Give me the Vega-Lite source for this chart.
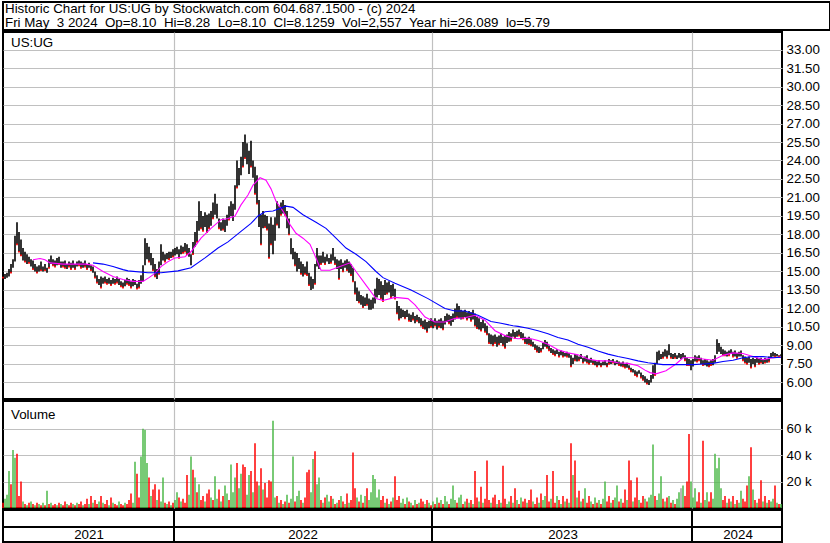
{
"$schema":"https://vega.github.io/schema/vega-lite/v6.json",
"background":"white",
"padding":{"left":1,"top":1,"right":0,"bottom":0},
"spacing":2,
"bounds":"flush",
"resolve":{"scale":{"color":"independent"}},
"config":{"view":{"stroke":"black","strokeWidth":2},"font":"Liberation Sans","axis":{"labelFont":"Liberation Sans","labelFontSize":13.33,"labelColor":"black","gridColor":"#c0c0c0","gridWidth":1.2,"ticks":false,"domain":false,"labelOverlap":false,"labelBound":false},"text":{"font":"Liberation Sans"}},
"datasets":{
"hd":[{"r":1,"t":"Historic Chart for US:UG by Stockwatch.com 604.687.1500 - (c) 2024"},{"r":2,"t":"Fri May\u00a0 3 2024\u00a0 Op=8.10\u00a0 Hi=8.28\u00a0 Lo=8.10\u00a0 Cl=8.1259\u00a0 Vol=2,557\u00a0 Year hi=26.089\u00a0 lo=5.79"}],
"yr":[{"y":"2021","a":0,"b":171,"m":86},{"y":"2022","a":171,"b":429,"m":300},{"y":"2023","a":429,"b":689,"m":560},{"y":"2024","a":689,"b":779,"m":735}],
"ma":[
{"k":"a","x":30,"p":15.95},{"k":"a","x":37,"p":16.05},{"k":"a","x":42,"p":15.95},{"k":"a","x":47,"p":15.7},{"k":"a","x":60,"p":15.6},{"k":"a","x":83,"p":15.6},{"k":"a","x":90,"p":15.5},{"k":"a","x":100,"p":15.0},{"k":"a","x":110,"p":14.6},{"k":"a","x":120,"p":14.35},{"k":"a","x":130,"p":14.2},{"k":"a","x":140,"p":14.2},{"k":"a","x":146,"p":14.5},{"k":"a","x":152,"p":14.85},{"k":"a","x":158,"p":15.4},{"k":"a","x":165,"p":15.8},{"k":"a","x":172,"p":16.1},{"k":"a","x":182,"p":16.2},{"k":"a","x":188,"p":16.6},{"k":"a","x":198,"p":17.7},{"k":"a","x":208,"p":18.5},{"k":"a","x":218,"p":19.2},{"k":"a","x":225,"p":19.3},{"k":"a","x":232,"p":19.5},{"k":"a","x":238,"p":20.4},{"k":"a","x":245,"p":21.2},{"k":"a","x":250,"p":22.0},{"k":"a","x":257,"p":22.6},{"k":"a","x":263,"p":22.4},{"k":"a","x":268,"p":21.7},{"k":"a","x":273,"p":20.7},{"k":"a","x":280,"p":19.9},{"k":"a","x":287,"p":18.8},{"k":"a","x":293,"p":18.1},{"k":"a","x":300,"p":17.7},{"k":"a","x":307,"p":17.2},{"k":"a","x":313,"p":16.1},{"k":"a","x":318,"p":15.1},{"k":"a","x":327,"p":15.1},{"k":"a","x":337,"p":15.4},{"k":"a","x":347,"p":15.7},{"k":"a","x":353,"p":15.0},{"k":"a","x":363,"p":13.9},{"k":"a","x":373,"p":12.8},{"k":"a","x":380,"p":12.65},{"k":"a","x":392,"p":12.9},{"k":"a","x":405,"p":12.8},{"k":"a","x":412,"p":12.3},{"k":"a","x":422,"p":11.3},{"k":"a","x":432,"p":10.9},{"k":"a","x":442,"p":10.9},{"k":"a","x":452,"p":11.2},{"k":"a","x":462,"p":11.25},{"k":"a","x":472,"p":11.45},{"k":"a","x":482,"p":11.05},{"k":"a","x":492,"p":10.2},{"k":"a","x":502,"p":9.8},{"k":"a","x":510,"p":9.6},{"k":"a","x":515,"p":9.55},{"k":"a","x":525,"p":9.6},{"k":"a","x":535,"p":9.4},{"k":"a","x":545,"p":9.1},{"k":"a","x":555,"p":8.65},{"k":"a","x":565,"p":8.4},{"k":"a","x":575,"p":8.25},{"k":"a","x":585,"p":7.9},{"k":"a","x":595,"p":7.75},{"k":"a","x":605,"p":7.75},{"k":"a","x":615,"p":7.6},{"k":"a","x":625,"p":7.55},{"k":"a","x":635,"p":7.35},{"k":"a","x":642,"p":7.0},{"k":"a","x":647,"p":6.8},{"k":"a","x":653,"p":6.7},{"k":"a","x":663,"p":6.95},{"k":"a","x":673,"p":7.5},{"k":"a","x":680,"p":8.0},{"k":"a","x":690,"p":8.0},{"k":"a","x":700,"p":7.9},{"k":"a","x":710,"p":7.8},{"k":"a","x":720,"p":8.2},{"k":"a","x":730,"p":8.4},{"k":"a","x":740,"p":8.35},{"k":"a","x":750,"p":8.1},{"k":"a","x":760,"p":7.85},{"k":"a","x":770,"p":8.0},{"k":"a","x":778,"p":8.05},
{"k":"b","x":90,"p":15.7},{"k":"b","x":100,"p":15.6},{"k":"b","x":110,"p":15.4},{"k":"b","x":120,"p":15.15},{"k":"b","x":125,"p":15.05},{"k":"b","x":145,"p":14.9},{"k":"b","x":158,"p":14.9},{"k":"b","x":175,"p":15.05},{"k":"b","x":188,"p":15.3},{"k":"b","x":202,"p":16.1},{"k":"b","x":215,"p":16.9},{"k":"b","x":225,"p":17.4},{"k":"b","x":238,"p":18.25},{"k":"b","x":248,"p":18.9},{"k":"b","x":255,"p":19.5},{"k":"b","x":262,"p":19.85},{"k":"b","x":270,"p":19.9},{"k":"b","x":283,"p":20.3},{"k":"b","x":290,"p":20.2},{"k":"b","x":300,"p":19.6},{"k":"b","x":313,"p":19.0},{"k":"b","x":323,"p":18.5},{"k":"b","x":333,"p":17.7},{"k":"b","x":343,"p":16.9},{"k":"b","x":353,"p":16.4},{"k":"b","x":363,"p":15.8},{"k":"b","x":373,"p":15.0},{"k":"b","x":380,"p":14.5},{"k":"b","x":392,"p":14.05},{"k":"b","x":408,"p":13.5},{"k":"b","x":425,"p":12.8},{"k":"b","x":442,"p":12.0},{"k":"b","x":452,"p":11.8},{"k":"b","x":462,"p":11.8},{"k":"b","x":475,"p":11.45},{"k":"b","x":488,"p":10.95},{"k":"b","x":498,"p":10.8},{"k":"b","x":510,"p":10.6},{"k":"b","x":515,"p":10.55},{"k":"b","x":525,"p":10.4},{"k":"b","x":535,"p":10.2},{"k":"b","x":545,"p":9.95},{"k":"b","x":555,"p":9.65},{"k":"b","x":565,"p":9.45},{"k":"b","x":575,"p":9.1},{"k":"b","x":585,"p":8.85},{"k":"b","x":595,"p":8.55},{"k":"b","x":605,"p":8.3},{"k":"b","x":615,"p":8.1},{"k":"b","x":625,"p":7.95},{"k":"b","x":635,"p":7.75},{"k":"b","x":645,"p":7.6},{"k":"b","x":660,"p":7.45},{"k":"b","x":673,"p":7.45},{"k":"b","x":690,"p":7.45},{"k":"b","x":700,"p":7.5},{"k":"b","x":710,"p":7.55},{"k":"b","x":720,"p":7.7},{"k":"b","x":730,"p":7.8},{"k":"b","x":740,"p":8.0},{"k":"b","x":750,"p":8.1},{"k":"b","x":760,"p":8.1},{"k":"b","x":770,"p":8.0},{"k":"b","x":778,"p":8.05}
],
"d":[
{"x":0,"h":15.0,"l":14.5,"v":4,"u":0},{"x":2,"h":14.8,"l":14.4,"v":7,"u":1},{"x":4,"h":14.9,"l":14.5,"v":10,"u":1},{"x":6,"h":15.2,"l":14.6,"v":28,"u":1},{"x":8,"h":15.6,"l":14.9,"v":18,"u":0},{"x":10,"h":16.0,"l":15.3,"v":44,"u":1},{"x":12,"h":17.9,"l":15.8,"v":38,"u":1},{"x":14,"h":19.0,"l":17.2,"v":41,"u":0},{"x":16,"h":18.2,"l":16.6,"v":9,"u":0},{"x":18,"h":17.6,"l":16.3,"v":20,"u":0},
{"x":20,"h":16.9,"l":15.9,"v":5,"u":1},{"x":22,"h":16.6,"l":15.8,"v":3,"u":0},{"x":24,"h":16.4,"l":15.6,"v":2,"u":1},{"x":26,"h":16.2,"l":15.7,"v":4,"u":0},{"x":28,"h":16.0,"l":15.4,"v":5,"u":1},{"x":30,"h":15.9,"l":15.2,"v":3,"u":0},{"x":32,"h":15.6,"l":15.0,"v":2,"u":1},{"x":34,"h":15.4,"l":14.9,"v":4,"u":0},{"x":36,"h":15.5,"l":15.0,"v":3,"u":1},{"x":38,"h":15.8,"l":15.1,"v":2,"u":0},
{"x":40,"h":15.4,"l":15.0,"v":4,"u":1},{"x":42,"h":15.6,"l":15.1,"v":2,"u":0},{"x":44,"h":15.3,"l":14.9,"v":13,"u":1},{"x":46,"h":16.0,"l":15.3,"v":3,"u":0},{"x":48,"h":16.3,"l":15.6,"v":4,"u":1},{"x":50,"h":16.0,"l":15.5,"v":2,"u":0},{"x":52,"h":15.9,"l":15.4,"v":3,"u":0},{"x":54,"h":16.1,"l":15.5,"v":2,"u":1},{"x":56,"h":16.2,"l":15.6,"v":4,"u":0},{"x":58,"h":15.8,"l":15.3,"v":3,"u":1},
{"x":60,"h":15.8,"l":15.4,"v":2,"u":0},{"x":62,"h":15.9,"l":15.3,"v":5,"u":0},{"x":64,"h":15.6,"l":15.2,"v":3,"u":1},{"x":66,"h":15.8,"l":15.4,"v":2,"u":0},{"x":68,"h":15.7,"l":15.2,"v":4,"u":0},{"x":70,"h":15.9,"l":15.3,"v":3,"u":1},{"x":72,"h":15.6,"l":15.2,"v":2,"u":0},{"x":74,"h":15.8,"l":15.4,"v":4,"u":1},{"x":76,"h":15.9,"l":15.5,"v":3,"u":0},{"x":78,"h":15.8,"l":15.3,"v":5,"u":0},
{"x":80,"h":15.7,"l":15.3,"v":2,"u":1},{"x":82,"h":15.9,"l":15.4,"v":3,"u":0},{"x":84,"h":15.6,"l":15.2,"v":7,"u":0},{"x":86,"h":15.7,"l":15.3,"v":3,"u":1},{"x":88,"h":15.5,"l":15.1,"v":9,"u":0},{"x":90,"h":15.4,"l":14.9,"v":4,"u":1},{"x":92,"h":15.0,"l":14.5,"v":6,"u":0},{"x":94,"h":14.7,"l":14.1,"v":3,"u":0},{"x":96,"h":14.4,"l":13.9,"v":5,"u":1},{"x":98,"h":14.6,"l":13.7,"v":9,"u":0},
{"x":100,"h":14.5,"l":14.0,"v":4,"u":1},{"x":102,"h":14.6,"l":14.1,"v":3,"u":0},{"x":104,"h":14.4,"l":14.0,"v":6,"u":0},{"x":106,"h":14.5,"l":14.0,"v":2,"u":1},{"x":108,"h":14.3,"l":13.9,"v":8,"u":0},{"x":110,"h":14.5,"l":14.0,"v":4,"u":1},{"x":112,"h":14.4,"l":14.0,"v":3,"u":0},{"x":114,"h":14.6,"l":14.1,"v":2,"u":0},{"x":116,"h":14.4,"l":13.9,"v":5,"u":1},{"x":118,"h":14.2,"l":13.8,"v":3,"u":0},
{"x":120,"h":14.1,"l":13.7,"v":2,"u":0},{"x":122,"h":14.3,"l":13.8,"v":4,"u":1},{"x":124,"h":14.5,"l":14.0,"v":3,"u":0},{"x":126,"h":14.4,"l":13.9,"v":6,"u":0},{"x":128,"h":14.2,"l":13.7,"v":11,"u":0},{"x":130,"h":14.4,"l":13.8,"v":4,"u":1},{"x":132,"h":14.3,"l":13.9,"v":35,"u":1},{"x":134,"h":14.0,"l":13.6,"v":26,"u":0},{"x":136,"h":14.3,"l":13.7,"v":8,"u":0},{"x":138,"h":14.7,"l":14.0,"v":39,"u":1},
{"x":140,"h":15.5,"l":14.2,"v":60,"u":1},{"x":142,"h":17.7,"l":15.5,"v":59,"u":1},{"x":144,"h":17.3,"l":16.0,"v":34,"u":1},{"x":146,"h":17.0,"l":15.8,"v":23,"u":0},{"x":148,"h":16.5,"l":15.5,"v":9,"u":1},{"x":150,"h":16.1,"l":15.1,"v":14,"u":0},{"x":152,"h":15.6,"l":14.6,"v":18,"u":0},{"x":154,"h":15.2,"l":14.4,"v":6,"u":1},{"x":156,"h":15.8,"l":14.8,"v":14,"u":0},{"x":158,"h":17.2,"l":15.5,"v":5,"u":1},
{"x":160,"h":16.6,"l":15.9,"v":23,"u":1},{"x":162,"h":16.4,"l":15.8,"v":4,"u":0},{"x":164,"h":16.5,"l":16.0,"v":3,"u":1},{"x":166,"h":16.6,"l":16.0,"v":5,"u":0},{"x":168,"h":16.6,"l":16.1,"v":2,"u":1},{"x":170,"h":16.8,"l":16.2,"v":4,"u":0},{"x":172,"h":16.9,"l":16.3,"v":6,"u":1},{"x":174,"h":17.0,"l":16.4,"v":12,"u":1},{"x":176,"h":16.8,"l":16.1,"v":8,"u":0},{"x":178,"h":17.1,"l":16.4,"v":5,"u":1},
{"x":180,"h":17.0,"l":16.5,"v":7,"u":0},{"x":182,"h":17.3,"l":16.6,"v":4,"u":0},{"x":184,"h":17.2,"l":16.4,"v":25,"u":0},{"x":186,"h":16.9,"l":16.2,"v":10,"u":1},{"x":188,"h":16.4,"l":15.5,"v":39,"u":1},{"x":190,"h":17.4,"l":16.4,"v":29,"u":0},{"x":192,"h":18.2,"l":17.0,"v":23,"u":1},{"x":194,"h":19.1,"l":17.4,"v":12,"u":0},{"x":196,"h":20.7,"l":18.3,"v":18,"u":1},{"x":198,"h":19.9,"l":18.5,"v":6,"u":0},
{"x":200,"h":19.5,"l":18.3,"v":9,"u":0},{"x":202,"h":19.8,"l":18.6,"v":5,"u":1},{"x":204,"h":19.6,"l":18.2,"v":11,"u":0},{"x":206,"h":19.7,"l":18.5,"v":14,"u":0},{"x":208,"h":19.9,"l":18.7,"v":8,"u":1},{"x":210,"h":20.6,"l":19.3,"v":6,"u":0},{"x":212,"h":21.3,"l":19.6,"v":24,"u":1},{"x":214,"h":20.5,"l":19.3,"v":7,"u":1},{"x":216,"h":19.3,"l":18.5,"v":14,"u":0},{"x":218,"h":19.0,"l":18.3,"v":5,"u":1},
{"x":220,"h":19.3,"l":18.4,"v":9,"u":0},{"x":222,"h":19.2,"l":18.2,"v":17,"u":1},{"x":224,"h":19.6,"l":18.7,"v":11,"u":1},{"x":226,"h":20.3,"l":19.2,"v":6,"u":0},{"x":228,"h":20.7,"l":19.5,"v":33,"u":1},{"x":230,"h":20.5,"l":19.1,"v":12,"u":1},{"x":232,"h":22.0,"l":20.0,"v":23,"u":1},{"x":234,"h":24.0,"l":21.8,"v":34,"u":0},{"x":236,"h":23.4,"l":22.0,"v":15,"u":1},{"x":238,"h":24.3,"l":22.8,"v":26,"u":1},
{"x":240,"h":25.5,"l":23.5,"v":33,"u":0},{"x":242,"h":26.1,"l":24.2,"v":31,"u":0},{"x":244,"h":25.4,"l":23.7,"v":10,"u":1},{"x":246,"h":24.8,"l":22.9,"v":25,"u":1},{"x":248,"h":25.6,"l":23.5,"v":28,"u":0},{"x":250,"h":24.0,"l":22.6,"v":12,"u":1},{"x":252,"h":23.5,"l":21.3,"v":49,"u":0},{"x":254,"h":22.8,"l":20.5,"v":20,"u":0},{"x":256,"h":20.8,"l":18.6,"v":17,"u":1},{"x":258,"h":19.6,"l":17.2,"v":30,"u":0},
{"x":260,"h":19.9,"l":18.5,"v":14,"u":1},{"x":262,"h":19.6,"l":18.6,"v":19,"u":0},{"x":264,"h":19.5,"l":18.4,"v":8,"u":0},{"x":266,"h":18.9,"l":16.1,"v":21,"u":0},{"x":268,"h":19.4,"l":17.2,"v":20,"u":0},{"x":270,"h":18.8,"l":16.4,"v":66,"u":1},{"x":272,"h":19.4,"l":17.5,"v":8,"u":1},{"x":274,"h":20.7,"l":18.8,"v":9,"u":0},{"x":276,"h":20.3,"l":18.5,"v":4,"u":1},{"x":278,"h":20.6,"l":19.6,"v":6,"u":0},
{"x":280,"h":20.8,"l":19.7,"v":3,"u":1},{"x":282,"h":20.4,"l":19.6,"v":5,"u":0},{"x":284,"h":19.9,"l":18.5,"v":10,"u":1},{"x":286,"h":19.3,"l":18.0,"v":4,"u":0},{"x":288,"h":17.7,"l":16.4,"v":7,"u":1},{"x":290,"h":16.9,"l":16.0,"v":39,"u":1},{"x":292,"h":16.6,"l":15.5,"v":5,"u":0},{"x":294,"h":16.5,"l":15.0,"v":9,"u":1},{"x":296,"h":16.1,"l":15.2,"v":13,"u":1},{"x":298,"h":15.8,"l":14.8,"v":6,"u":0},
{"x":300,"h":15.6,"l":14.6,"v":4,"u":1},{"x":302,"h":15.4,"l":14.8,"v":8,"u":0},{"x":304,"h":15.8,"l":14.7,"v":27,"u":0},{"x":306,"h":14.9,"l":13.9,"v":29,"u":0},{"x":308,"h":14.6,"l":13.5,"v":12,"u":1},{"x":310,"h":14.4,"l":13.6,"v":37,"u":1},{"x":312,"h":15.6,"l":14.0,"v":43,"u":0},{"x":314,"h":16.9,"l":15.4,"v":18,"u":1},{"x":316,"h":16.3,"l":15.2,"v":23,"u":1},{"x":318,"h":16.3,"l":15.6,"v":6,"u":0},
{"x":320,"h":16.6,"l":15.7,"v":4,"u":1},{"x":322,"h":16.2,"l":15.6,"v":8,"u":0},{"x":324,"h":16.4,"l":15.8,"v":10,"u":1},{"x":326,"h":16.1,"l":15.6,"v":5,"u":1},{"x":328,"h":16.4,"l":15.7,"v":9,"u":0},{"x":330,"h":16.9,"l":15.9,"v":7,"u":1},{"x":332,"h":16.2,"l":15.6,"v":3,"u":0},{"x":334,"h":16.0,"l":15.2,"v":4,"u":1},{"x":336,"h":15.9,"l":14.4,"v":6,"u":0},{"x":338,"h":16.0,"l":15.2,"v":9,"u":1},
{"x":340,"h":15.7,"l":15.0,"v":5,"u":0},{"x":342,"h":15.9,"l":15.3,"v":3,"u":1},{"x":344,"h":16.0,"l":15.1,"v":11,"u":0},{"x":346,"h":15.8,"l":14.9,"v":4,"u":1},{"x":348,"h":15.6,"l":14.7,"v":6,"u":0},{"x":350,"h":15.3,"l":14.2,"v":42,"u":0},{"x":352,"h":14.2,"l":13.2,"v":15,"u":0},{"x":354,"h":13.7,"l":12.6,"v":8,"u":1},{"x":356,"h":13.4,"l":12.5,"v":5,"u":0},{"x":358,"h":13.1,"l":12.3,"v":10,"u":1},
{"x":360,"h":13.0,"l":12.1,"v":4,"u":0},{"x":362,"h":12.9,"l":12.2,"v":9,"u":1},{"x":364,"h":13.2,"l":12.3,"v":15,"u":0},{"x":366,"h":12.8,"l":11.9,"v":6,"u":1},{"x":368,"h":12.7,"l":11.9,"v":12,"u":1},{"x":370,"h":12.9,"l":12.0,"v":25,"u":1},{"x":372,"h":13.6,"l":12.4,"v":22,"u":1},{"x":374,"h":14.5,"l":12.9,"v":8,"u":1},{"x":376,"h":14.4,"l":13.1,"v":14,"u":1},{"x":378,"h":14.2,"l":12.8,"v":6,"u":0},
{"x":380,"h":13.9,"l":12.6,"v":9,"u":0},{"x":382,"h":14.3,"l":13.1,"v":4,"u":1},{"x":384,"h":14.1,"l":13.2,"v":7,"u":0},{"x":386,"h":14.2,"l":13.3,"v":3,"u":1},{"x":388,"h":13.9,"l":12.9,"v":5,"u":0},{"x":390,"h":14.0,"l":13.0,"v":8,"u":1},{"x":392,"h":13.6,"l":12.8,"v":24,"u":0},{"x":394,"h":12.6,"l":11.6,"v":6,"u":0},{"x":396,"h":12.2,"l":11.1,"v":9,"u":0},{"x":398,"h":12.0,"l":11.2,"v":4,"u":1},
{"x":400,"h":11.9,"l":11.3,"v":7,"u":1},{"x":402,"h":11.8,"l":11.2,"v":3,"u":0},{"x":404,"h":11.9,"l":11.3,"v":8,"u":1},{"x":406,"h":11.6,"l":11.0,"v":5,"u":0},{"x":408,"h":11.5,"l":10.9,"v":4,"u":1},{"x":410,"h":11.7,"l":11.1,"v":2,"u":0},{"x":412,"h":11.4,"l":10.8,"v":6,"u":1},{"x":414,"h":11.5,"l":11.0,"v":3,"u":0},{"x":416,"h":11.3,"l":10.8,"v":4,"u":1},{"x":418,"h":11.2,"l":10.6,"v":7,"u":0},
{"x":420,"h":11.0,"l":10.4,"v":5,"u":0},{"x":422,"h":11.1,"l":10.3,"v":3,"u":1},{"x":424,"h":10.9,"l":10.1,"v":6,"u":0},{"x":426,"h":11.0,"l":10.4,"v":4,"u":1},{"x":428,"h":11.2,"l":10.5,"v":2,"u":0},{"x":430,"h":11.0,"l":10.4,"v":5,"u":1},{"x":432,"h":11.2,"l":10.6,"v":3,"u":0},{"x":434,"h":11.0,"l":10.3,"v":8,"u":1},{"x":436,"h":11.1,"l":10.5,"v":4,"u":0},{"x":438,"h":11.2,"l":10.4,"v":6,"u":1},
{"x":440,"h":11.0,"l":10.3,"v":3,"u":0},{"x":442,"h":11.4,"l":10.7,"v":9,"u":1},{"x":444,"h":11.6,"l":10.9,"v":5,"u":1},{"x":446,"h":11.5,"l":10.8,"v":3,"u":0},{"x":448,"h":11.4,"l":10.6,"v":7,"u":1},{"x":450,"h":11.6,"l":10.9,"v":17,"u":1},{"x":452,"h":12.0,"l":11.1,"v":6,"u":1},{"x":454,"h":12.4,"l":11.3,"v":4,"u":0},{"x":456,"h":12.2,"l":11.2,"v":8,"u":1},{"x":458,"h":11.9,"l":11.1,"v":10,"u":1},
{"x":460,"h":11.8,"l":11.2,"v":3,"u":0},{"x":462,"h":11.9,"l":11.3,"v":5,"u":1},{"x":464,"h":11.7,"l":11.1,"v":7,"u":0},{"x":466,"h":11.8,"l":11.2,"v":4,"u":1},{"x":468,"h":11.7,"l":11.0,"v":6,"u":0},{"x":470,"h":11.9,"l":11.1,"v":3,"u":1},{"x":472,"h":11.6,"l":10.6,"v":28,"u":0},{"x":474,"h":11.3,"l":10.4,"v":8,"u":0},{"x":476,"h":11.2,"l":10.3,"v":5,"u":1},{"x":478,"h":10.9,"l":10.2,"v":16,"u":0},
{"x":480,"h":11.1,"l":10.4,"v":4,"u":1},{"x":482,"h":10.8,"l":10.1,"v":7,"u":0},{"x":484,"h":10.6,"l":9.9,"v":36,"u":0},{"x":486,"h":10.0,"l":9.2,"v":6,"u":0},{"x":488,"h":9.9,"l":9.1,"v":4,"u":1},{"x":490,"h":9.8,"l":9.0,"v":8,"u":0},{"x":492,"h":9.9,"l":9.2,"v":10,"u":0},{"x":494,"h":9.7,"l":8.9,"v":3,"u":1},{"x":496,"h":9.8,"l":9.1,"v":6,"u":0},{"x":498,"h":10.0,"l":9.2,"v":4,"u":1},
{"x":500,"h":9.7,"l":9.0,"v":32,"u":0},{"x":502,"h":9.8,"l":8.8,"v":7,"u":0},{"x":504,"h":9.9,"l":9.2,"v":3,"u":1},{"x":506,"h":10.1,"l":9.3,"v":5,"u":1},{"x":508,"h":10.0,"l":9.4,"v":9,"u":0},{"x":510,"h":10.3,"l":9.7,"v":4,"u":1},{"x":512,"h":10.1,"l":9.6,"v":15,"u":0},{"x":514,"h":10.2,"l":9.7,"v":6,"u":1},{"x":516,"h":10.3,"l":9.8,"v":3,"u":0},{"x":518,"h":10.1,"l":9.6,"v":8,"u":1},
{"x":520,"h":10.0,"l":9.5,"v":5,"u":0},{"x":522,"h":9.7,"l":9.2,"v":7,"u":0},{"x":524,"h":9.6,"l":9.1,"v":4,"u":1},{"x":526,"h":9.7,"l":9.1,"v":6,"u":0},{"x":528,"h":9.5,"l":9.0,"v":14,"u":0},{"x":530,"h":9.3,"l":8.9,"v":5,"u":1},{"x":532,"h":9.1,"l":8.7,"v":3,"u":0},{"x":534,"h":9.0,"l":8.5,"v":8,"u":0},{"x":536,"h":8.9,"l":8.4,"v":4,"u":1},{"x":538,"h":8.8,"l":8.5,"v":11,"u":0},
{"x":540,"h":9.2,"l":8.7,"v":6,"u":1},{"x":542,"h":9.45,"l":8.9,"v":9,"u":1},{"x":544,"h":9.3,"l":8.8,"v":25,"u":0},{"x":546,"h":9.0,"l":8.6,"v":5,"u":0},{"x":548,"h":8.8,"l":8.4,"v":7,"u":1},{"x":550,"h":8.7,"l":8.3,"v":28,"u":0},{"x":552,"h":8.6,"l":8.2,"v":4,"u":0},{"x":554,"h":8.7,"l":8.3,"v":9,"u":1},{"x":556,"h":8.5,"l":8.1,"v":6,"u":0},{"x":558,"h":8.6,"l":8.2,"v":3,"u":1},
{"x":560,"h":8.5,"l":8.1,"v":9,"u":0},{"x":562,"h":8.4,"l":8.1,"v":5,"u":1},{"x":564,"h":8.5,"l":8.1,"v":7,"u":0},{"x":566,"h":8.4,"l":8.0,"v":4,"u":1},{"x":568,"h":8.2,"l":7.3,"v":49,"u":0},{"x":570,"h":8.0,"l":7.5,"v":25,"u":1},{"x":572,"h":8.3,"l":7.8,"v":36,"u":0},{"x":574,"h":8.2,"l":7.7,"v":8,"u":1},{"x":576,"h":8.1,"l":7.8,"v":13,"u":0},{"x":578,"h":8.3,"l":7.9,"v":5,"u":1},
{"x":580,"h":8.0,"l":7.6,"v":7,"u":0},{"x":582,"h":8.1,"l":7.7,"v":15,"u":1},{"x":584,"h":8.2,"l":7.6,"v":4,"u":0},{"x":586,"h":7.9,"l":7.5,"v":9,"u":0},{"x":588,"h":8.0,"l":7.6,"v":5,"u":1},{"x":590,"h":7.8,"l":7.5,"v":3,"u":0},{"x":592,"h":7.8,"l":7.4,"v":8,"u":1},{"x":594,"h":7.7,"l":7.3,"v":4,"u":0},{"x":596,"h":7.8,"l":7.4,"v":6,"u":1},{"x":598,"h":7.6,"l":7.3,"v":3,"u":0},
{"x":600,"h":7.7,"l":7.4,"v":7,"u":1},{"x":602,"h":7.8,"l":7.4,"v":20,"u":1},{"x":604,"h":7.6,"l":7.3,"v":5,"u":0},{"x":606,"h":7.9,"l":7.5,"v":9,"u":0},{"x":608,"h":7.8,"l":7.5,"v":4,"u":1},{"x":610,"h":7.9,"l":7.6,"v":6,"u":0},{"x":612,"h":7.7,"l":7.4,"v":8,"u":1},{"x":614,"h":7.8,"l":7.5,"v":17,"u":1},{"x":616,"h":7.7,"l":7.4,"v":5,"u":0},{"x":618,"h":7.6,"l":7.3,"v":7,"u":1},
{"x":620,"h":7.7,"l":7.3,"v":4,"u":0},{"x":622,"h":7.5,"l":7.2,"v":14,"u":0},{"x":624,"h":7.6,"l":7.2,"v":6,"u":1},{"x":626,"h":7.4,"l":7.1,"v":36,"u":0},{"x":628,"h":7.2,"l":6.9,"v":21,"u":0},{"x":630,"h":7.1,"l":6.8,"v":5,"u":1},{"x":632,"h":7.0,"l":6.6,"v":8,"u":0},{"x":634,"h":6.9,"l":6.5,"v":23,"u":0},{"x":636,"h":7.0,"l":6.7,"v":6,"u":1},{"x":638,"h":6.8,"l":6.4,"v":4,"u":0},
{"x":640,"h":6.6,"l":6.2,"v":9,"u":0},{"x":642,"h":6.5,"l":6.0,"v":7,"u":1},{"x":644,"h":6.3,"l":5.9,"v":5,"u":0},{"x":646,"h":6.2,"l":5.79,"v":8,"u":1},{"x":648,"h":6.6,"l":6.0,"v":10,"u":1},{"x":650,"h":7.4,"l":6.3,"v":48,"u":1},{"x":652,"h":7.6,"l":6.6,"v":9,"u":0},{"x":654,"h":8.5,"l":7.5,"v":6,"u":1},{"x":656,"h":8.6,"l":7.8,"v":11,"u":1},{"x":658,"h":8.3,"l":7.9,"v":24,"u":1},
{"x":660,"h":8.5,"l":8.0,"v":7,"u":0},{"x":662,"h":8.7,"l":8.1,"v":5,"u":1},{"x":664,"h":8.6,"l":8.0,"v":8,"u":0},{"x":666,"h":9.1,"l":8.2,"v":9,"u":1},{"x":668,"h":8.4,"l":8.0,"v":4,"u":0},{"x":670,"h":8.3,"l":7.9,"v":6,"u":1},{"x":672,"h":8.4,"l":8.0,"v":3,"u":0},{"x":674,"h":8.2,"l":7.9,"v":7,"u":1},{"x":676,"h":8.4,"l":8.0,"v":12,"u":1},{"x":678,"h":8.3,"l":7.9,"v":15,"u":2},
{"x":680,"h":8.4,"l":8.0,"v":17,"u":1},{"x":682,"h":8.2,"l":7.8,"v":9,"u":0},{"x":684,"h":8.0,"l":7.4,"v":20,"u":0},{"x":686,"h":7.9,"l":7.4,"v":56,"u":0},{"x":688,"h":7.8,"l":7.0,"v":20,"u":1},{"x":690,"h":7.9,"l":7.3,"v":8,"u":1},{"x":692,"h":8.2,"l":7.7,"v":15,"u":1},{"x":694,"h":8.1,"l":7.7,"v":5,"u":0},{"x":696,"h":8.2,"l":7.8,"v":12,"u":0},{"x":698,"h":8.0,"l":7.5,"v":4,"u":1},
{"x":700,"h":7.8,"l":7.4,"v":51,"u":0},{"x":702,"h":7.9,"l":7.4,"v":6,"u":1},{"x":704,"h":7.8,"l":7.3,"v":12,"u":1},{"x":706,"h":7.7,"l":7.3,"v":5,"u":0},{"x":708,"h":7.8,"l":7.4,"v":12,"u":0},{"x":710,"h":7.9,"l":7.4,"v":7,"u":1},{"x":712,"h":8.2,"l":7.6,"v":41,"u":1},{"x":714,"h":9.5,"l":8.3,"v":30,"u":1},{"x":716,"h":9.2,"l":8.5,"v":38,"u":1},{"x":718,"h":8.9,"l":8.3,"v":15,"u":1},
{"x":720,"h":8.7,"l":8.2,"v":6,"u":0},{"x":722,"h":8.6,"l":8.2,"v":9,"u":0},{"x":724,"h":8.5,"l":8.1,"v":4,"u":1},{"x":726,"h":8.6,"l":8.2,"v":7,"u":0},{"x":728,"h":8.7,"l":8.3,"v":5,"u":1},{"x":730,"h":8.5,"l":8.1,"v":9,"u":0},{"x":732,"h":8.6,"l":8.1,"v":3,"u":1},{"x":734,"h":8.4,"l":8.0,"v":6,"u":0},{"x":736,"h":8.5,"l":8.1,"v":4,"u":1},{"x":738,"h":8.6,"l":8.1,"v":13,"u":1},
{"x":740,"h":8.2,"l":7.8,"v":7,"u":0},{"x":742,"h":8.1,"l":7.6,"v":5,"u":0},{"x":744,"h":8.0,"l":7.5,"v":17,"u":0},{"x":746,"h":8.1,"l":7.6,"v":24,"u":1},{"x":748,"h":7.9,"l":7.2,"v":46,"u":0},{"x":750,"h":8.0,"l":7.5,"v":14,"u":1},{"x":752,"h":7.9,"l":7.3,"v":6,"u":0},{"x":754,"h":8.0,"l":7.6,"v":4,"u":1},{"x":756,"h":7.9,"l":7.5,"v":7,"u":0},{"x":758,"h":8.0,"l":7.6,"v":21,"u":0},
{"x":760,"h":7.9,"l":7.5,"v":5,"u":1},{"x":762,"h":8.0,"l":7.6,"v":9,"u":0},{"x":764,"h":7.9,"l":7.6,"v":4,"u":1},{"x":766,"h":8.1,"l":7.7,"v":6,"u":0},{"x":768,"h":8.4,"l":8.0,"v":5,"u":1},{"x":770,"h":8.5,"l":8.1,"v":7,"u":1},{"x":772,"h":8.4,"l":8.1,"v":17,"u":0},{"x":774,"h":8.3,"l":8.1,"v":4,"u":1},{"x":776,"h":8.2,"l":8.1,"v":3,"u":0},{"x":778,"h":8.28,"l":8.1,"v":3,"u":1}
]
},
"vconcat":[
{"width":827,"height":28,"data":{"name":"hd"},
 "mark":{"type":"text","align":"left","baseline":"middle","fontSize":13.33,"dx":2,"color":"black"},
 "encoding":{"x":{"datum":0,"type":"quantitative","scale":{"domain":[0,1]},"axis":null},"y":{"field":"r","type":"ordinal","axis":null},"text":{"field":"t"}}},
{"width":779,"height":367,
 "layer":[
  {"data":{"name":"d"},"mark":{"type":"rule","color":"black","strokeWidth":1.6},
   "encoding":{"x":{"field":"x","type":"quantitative","scale":{"domain":[0,779],"nice":false,"zero":false},"axis":{"values":[171,429,689],"grid":true,"labels":false,"ticks":false,"domain":false,"title":null,"maxExtent":0,"minExtent":0}},
    "y":{"field":"h","type":"quantitative","scale":{"domain":[4.66,34.42],"nice":false,"zero":false},"axis":{"orient":"right","values":[6,7.5,9,10.5,12,13.5,15,16.5,18,19.5,21,22.5,24,25.5,27,28.5,30,31.5,33],"tickCount":19,"format":".2f","grid":true,"labelOverlap":false,"labelPadding":4,"title":null}},
    "y2":{"field":"l"}}},
  {"data":{"name":"d"},"transform":[{"filter":"datum.u == 0"}],"mark":{"type":"square","color":"#ff0000","size":3,"opacity":1},
   "encoding":{"x":{"field":"x","type":"quantitative"},"y":{"field":"l","type":"quantitative"}}},
  {"data":{"name":"ma"},"mark":{"type":"line","strokeWidth":1.1},
   "encoding":{"x":{"field":"x","type":"quantitative"},"y":{"field":"p","type":"quantitative"},"color":{"field":"k","type":"nominal","scale":{"domain":["a","b"],"range":["#ff00ff","#0000ff"]},"legend":null}}},
  {"data":{"values":[{"t":"US:UG"}]},"mark":{"type":"text","align":"left","baseline":"middle","fontSize":13.33,"color":"black"},
   "encoding":{"x":{"datum":8,"type":"quantitative"},"y":{"datum":33.55,"type":"quantitative"},"text":{"field":"t"}}}
 ]},
{"width":779,"height":107,
 "layer":[
  {"data":{"name":"d"},"mark":{"type":"rule","strokeWidth":1.5},
   "encoding":{"x":{"field":"x","type":"quantitative","scale":{"domain":[0,779],"nice":false,"zero":false},"axis":{"values":[171,429,689],"grid":true,"labels":false,"ticks":false,"domain":false,"title":null,"maxExtent":0,"minExtent":0}},
    "y":{"field":"v","type":"quantitative","scale":{"domain":[0,81],"nice":false},"axis":{"orient":"right","values":[20,40,60],"labelExpr":"datum.value + ' k'","grid":true,"labelPadding":4,"title":null}},
    "y2":{"datum":0},
    "color":{"field":"u","type":"nominal","scale":{"domain":[0,1,2],"range":["#ff0000","#4cb848","#a0a0a0"]},"legend":null}}},
  {"data":{"values":[{"t":"Volume"}]},"mark":{"type":"text","align":"left","baseline":"middle","fontSize":13.33,"color":"black"},
   "encoding":{"x":{"datum":8,"type":"quantitative"},"y":{"datum":70.5,"type":"quantitative"},"text":{"field":"t"}}}
 ]},
{"width":779,"height":32,"data":{"name":"yr"},
 "layer":[
  {"mark":{"type":"rect","fill":"white","stroke":"black","strokeWidth":2},
   "encoding":{"x":{"field":"a","type":"quantitative","scale":{"domain":[0,779],"nice":false,"zero":false},"axis":null},"x2":{"field":"b"},"y":{"datum":0.47,"type":"quantitative","scale":{"domain":[0,1],"nice":false,"zero":false},"axis":null},"y2":{"datum":1}}},
  {"mark":{"type":"rect","fill":"white","stroke":"black","strokeWidth":2},
   "encoding":{"x":{"field":"a","type":"quantitative"},"x2":{"field":"b"},"y":{"datum":0,"type":"quantitative"},"y2":{"datum":0.47}}},
  {"mark":{"type":"text","fontSize":13.33,"baseline":"middle","color":"black"},
   "encoding":{"x":{"field":"m","type":"quantitative"},"y":{"datum":0.21,"type":"quantitative"},"text":{"field":"y"}}}
 ]}
]
}
